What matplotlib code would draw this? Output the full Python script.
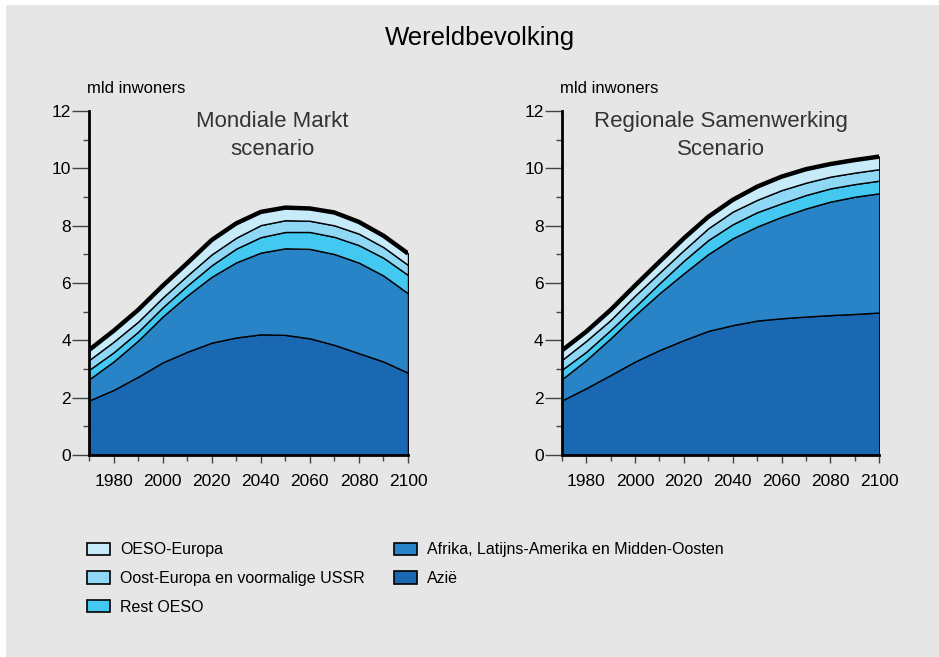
import numpy as np
import matplotlib
matplotlib.use('Agg')
import matplotlib.pyplot as plt
from matplotlib.patches import Patch, Rectangle
from matplotlib.ticker import MultipleLocator

plt.rcParams['font.family'] = ['Liberation Sans', 'DejaVu Sans']

# Wereldbevolking per regio (mld inwoners)

years = [1970, 1980, 1990, 2000, 2010, 2020, 2030, 2040, 2050, 2060, 2070, 2080, 2090, 2100]

regions = ['Azië', 'Afrika, Latijns-Amerika en Midden-Oosten', 'Rest OESO',
           'Oost-Europa en voormalige USSR', 'OESO-Europa']

# Mondiale Markt scenario
mm_azie = [1.90, 2.27, 2.73, 3.23, 3.60, 3.92, 4.10, 4.21, 4.19, 4.07, 3.84, 3.55, 3.26, 2.87]
mm_afrika = [0.74, 0.99, 1.26, 1.60, 1.96, 2.30, 2.62, 2.85, 3.02, 3.12, 3.17, 3.16, 3.00, 2.77]
mm_rest_oeso = [0.33, 0.32, 0.31, 0.32, 0.35, 0.40, 0.48, 0.54, 0.57, 0.59, 0.60, 0.61, 0.62, 0.64]
mm_oost = [0.34, 0.37, 0.35, 0.34, 0.35, 0.38, 0.38, 0.42, 0.41, 0.39, 0.40, 0.40, 0.37, 0.35]
mm_oeso_eu = [0.35, 0.38, 0.41, 0.41, 0.43, 0.50, 0.50, 0.46, 0.44, 0.43, 0.45, 0.41, 0.40, 0.40]

# Regionale Samenwerking scenario
rs_azie = [1.90, 2.33, 2.79, 3.26, 3.66, 4.01, 4.33, 4.53, 4.69, 4.77, 4.83, 4.88, 4.92, 4.97]
rs_afrika = [0.74, 0.98, 1.28, 1.62, 1.98, 2.33, 2.68, 3.03, 3.28, 3.54, 3.77, 3.96, 4.09, 4.16]
rs_rest_oeso = [0.33, 0.29, 0.29, 0.29, 0.35, 0.44, 0.49, 0.49, 0.50, 0.47, 0.47, 0.46, 0.44, 0.44]
rs_oost = [0.34, 0.38, 0.35, 0.39, 0.37, 0.37, 0.41, 0.44, 0.43, 0.46, 0.43, 0.41, 0.40, 0.40]
rs_oeso_eu = [0.33, 0.32, 0.35, 0.35, 0.38, 0.41, 0.40, 0.41, 0.46, 0.47, 0.47, 0.44, 0.44, 0.44]

colors = ['#1a67b2', '#2884c6', '#43c8f1', '#8ed7f5', '#c8ebfa']
bg = '#e6e6e6'

fig = plt.figure(figsize=(9.39, 6.57), dpi=100, facecolor='white')
fig.patches.append(Rectangle((6/939, 0), 1, 1 - 5/657, transform=fig.transFigure,
                             facecolor=bg, edgecolor='none', zorder=-1))

fig.text(480/939, 1 - 38/657, 'Wereldbevolking', ha='center', va='center', fontsize=18.5)


def panel(ax, series, title, tx):
    ax.set_facecolor(bg)
    ax.stackplot(years, *series, colors=colors, edgecolor='black', linewidth=1.0)
    top = np.sum(series, axis=0)
    ax.plot(years, top, color='black', lw=3.2, solid_capstyle='butt')
    ax.set_xlim(1970, 2100)
    ax.set_ylim(0, 12)
    for s in ['top', 'right']:
        ax.spines[s].set_visible(False)
    ax.spines['left'].set_linewidth(2)
    ax.spines['bottom'].set_linewidth(2)
    ax.yaxis.set_major_locator(MultipleLocator(2))
    ax.yaxis.set_minor_locator(MultipleLocator(1))
    ax.set_xticks(range(1980, 2101, 20))
    ax.xaxis.set_minor_locator(MultipleLocator(10))
    ax.tick_params(axis='y', which='major', length=12, width=1, color='#444444',
                   labelsize=12.5, pad=1)
    ax.tick_params(axis='x', which='major', length=6, width=1, color='#444444',
                   labelsize=12.5, pad=8)
    ax.tick_params(which='minor', length=4, width=1, color='#444444')
    ax.text(tx, 1.0, title, transform=ax.transAxes, ha='center', va='top',
            fontsize=16, color='#333333', linespacing=1.45)
    ax.text(-0.005, 1.065, 'mld inwoners', transform=ax.transAxes, ha='left',
            va='center', fontsize=12)


ax1 = fig.add_axes([89/939, 1 - 455/657, 319/939, 344/657])
panel(ax1, [mm_azie, mm_afrika, mm_rest_oeso, mm_oost, mm_oeso_eu],
      'Mondiale Markt\nscenario', 0.575)

ax2 = fig.add_axes([561.7/939, 1 - 455/657, 317.6/939, 344/657])
panel(ax2, [rs_azie, rs_afrika, rs_rest_oeso, rs_oost, rs_oeso_eu],
      'Regionale Samenwerking\nScenario', 0.5)

order = [4, 3, 2, 1, 0]
handles = [Patch(facecolor=colors[i], edgecolor='black', linewidth=1.2) for i in order]
labels = [regions[i] for i in order]
fig.legend(handles, labels, ncol=2, loc='upper left', bbox_to_anchor=(73/939, 1 - 528/657),
           frameon=False, fontsize=11.5, handlelength=1.4, handleheight=0.8,
           columnspacing=1.85, labelspacing=0.85, handletextpad=0.65)

fig.savefig('out.png', dpi=100, facecolor=fig.get_facecolor())
